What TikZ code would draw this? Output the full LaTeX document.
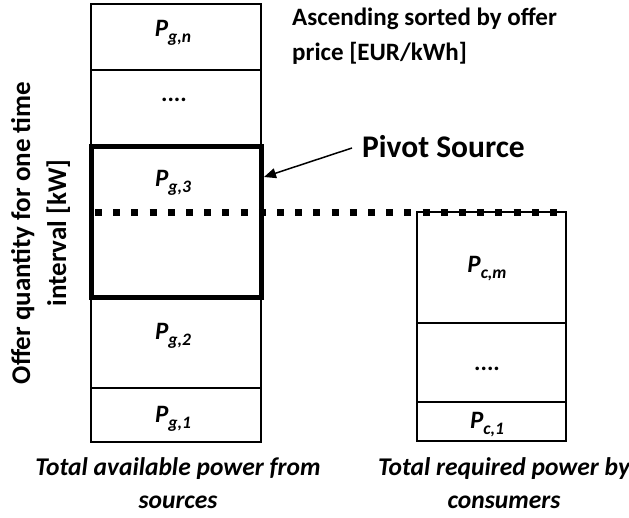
\documentclass[tikz,border=0pt]{standalone}
\usepackage{fontspec}
\setmainfont{Carlito}
\usetikzlibrary{arrows.meta}
\newcommand{\plabel}[2]{{\fontsize{25}{25}\selectfont\bfseries\itshape #1\raisebox{-6pt}{\fontsize{17.5}{17.5}\selectfont #2}}}
\begin{document}
\begin{tikzpicture}[x=1pt,y=-1pt,
  cellline/.style={draw=black, line width=1.5pt},
  pivotline/.style={draw=black, line width=5pt},
  dotline/.style={draw=black, line width=7pt, dash pattern=on 7pt off 11.2pt},
  lbl/.style={inner sep=0pt, anchor=base},
  dots/.style={inner sep=0pt, anchor=base, font=\fontsize{24}{24}\selectfont\bfseries},
  txt/.style={inner sep=0pt, font=\fontsize{25}{35}\selectfont\bfseries},
  btxt/.style={inner sep=0pt, anchor=base, align=center, font=\fontsize{25.5}{33}\selectfont\bfseries\itshape},
  arr/.style={draw=black, line width=1.5pt, -{Triangle[length=12pt,width=10pt]}}]
\useasboundingbox (0,0) rectangle (629,517);
% left column
\draw[cellline] (91,4) rectangle (261,442);
\draw[cellline] (91,70) -- (261,70);
\draw[cellline] (91,388) -- (261,388);
% right column
\draw[cellline] (417,212) rectangle (566,441);
\draw[cellline] (417,323) -- (566,323);
\draw[cellline] (417,402) -- (566,402);
% pivot box
\node[pivotline, minimum width=170pt, minimum height=151pt, inner sep=0pt] (pivotbox) at (176,221.5) {};
% dotted line
\coordinate (ds) at (95,212);
\coordinate (de) at (558,212);
\draw[dotline] (ds) -- (de);
% labels
\node[lbl] (pgn) at (173,36) {\plabel{P}{g,n}};
\node[dots] (d1) at (174,101) {....};
\node[lbl] (pg3) at (173,186) {\plabel{P}{g,3}};
\node[lbl] (pg2) at (173,339) {\plabel{P}{g,2}};
\node[lbl] (pg1) at (173,422) {\plabel{P}{g,1}};
\node[lbl] (pcm) at (487,272) {\plabel{P}{c,m}};
\node[dots] (d2) at (487,370) {....};
\node[lbl] (pc1) at (487,428) {\plabel{P}{c,1}};
% texts
\node[inner sep=0pt, anchor=base, rotate=90, align=center, font=\fontsize{27}{36}\selectfont\bfseries] (axis) at (66,233) {Offer quantity for one time\\interval [kW]};
\node[txt, anchor=base west, align=left] (sorted) at (292,60) {Ascending sorted by offer\\price [EUR/kWh]};
\node[inner sep=0pt, anchor=base west, font=\fontsize{31.5}{31.5}\selectfont\bfseries] (pivot) at (362,157) {Pivot Source};
\node[btxt] (avail) at (178,508) {Total available power from\\sources};
\node[btxt] (req) at (504,508) {Total required power by\\consumers};
% arrow
\coordinate (tip) at (264,177);
\coordinate (start) at (352,148);
\draw[arr] (start) -- (tip);
\end{tikzpicture}
\end{document}
